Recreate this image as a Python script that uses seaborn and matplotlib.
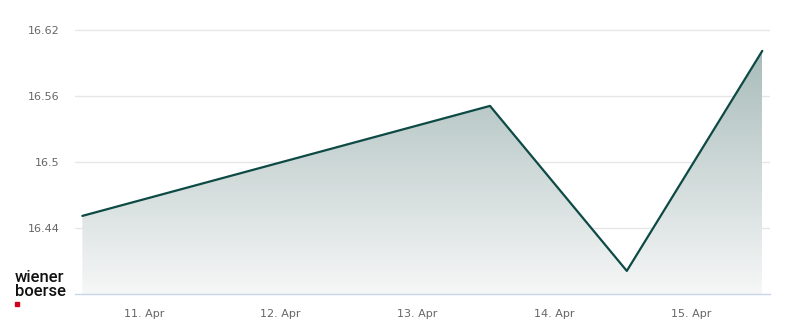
import numpy as np
import pandas as pd
import matplotlib
matplotlib.use("Agg")
import matplotlib.pyplot as plt
import matplotlib.dates as mdates
from matplotlib.patches import Polygon
import seaborn as sns

# Data
times = ["2024-04-10 13:12", "2024-04-13 12:43", "2024-04-14 12:43", "2024-04-15 12:29"]
prices = [16.451, 16.551, 16.401, 16.601]
y_ticks = [16.44, 16.5, 16.56, 16.62]
y_tick_labels = ["16.44", "16.5", "16.56", "16.62"]
x_ticks = ["2024-04-11", "2024-04-12", "2024-04-13", "2024-04-14", "2024-04-15"]
x_tick_labels = ["11. Apr", "12. Apr", "13. Apr", "14. Apr", "15. Apr"]

df = pd.DataFrame({"time": pd.to_datetime(times), "price": prices})

sns.set_style("white")
plt.rcParams["font.family"] = ["DejaVu Sans"]

fig = plt.figure(figsize=(8, 3.24), dpi=100)
ax = fig.add_axes([75 / 800, 1 - 294 / 324, (770 - 75) / 800, (294 - 22) / 324])

line_color = "#0e4a45"
sns.lineplot(data=df, x="time", y="price", ax=ax, color=line_color, linewidth=1.6, zorder=3)

ymin = 16.38
ymax = 16.62 + 8 / 1100
x0 = mdates.date2num(pd.Timestamp("2024-04-11")) - (144 - 75) / 137
x1 = mdates.date2num(pd.Timestamp("2024-04-15")) + (770 - 691) / 137
ax.set_xlim(x0, x1)
ax.set_ylim(ymin, ymax)

# gradient fill under line
xn = mdates.date2num(df["time"])
verts = [(xn[0], ymin)] + list(zip(xn, df["price"])) + [(xn[-1], ymin)]
poly = Polygon(verts, closed=True, facecolor="none", edgecolor="none")
ax.add_patch(poly)
top_c = np.array([168, 188, 186]) / 255
bot_c = np.array([246, 247, 247]) / 255
top_v = max(prices)
n = 256
t = np.linspace(0, 1, n)[:, None]
grad = (top_c[None, :] * (1 - t) + bot_c[None, :] * t)[:, None, :]
im = ax.imshow(grad, extent=[xn[0], xn[-1], ymin, top_v], origin="upper",
               aspect="auto", zorder=1, interpolation="bilinear")
im.set_clip_path(poly)

# grid
ax.set_yticks(y_ticks)
ax.set_yticklabels(y_tick_labels)
ax.grid(axis="y", color="#e6e6e6", linewidth=1, zorder=0)
ax.set_xticks([mdates.date2num(pd.Timestamp(d)) for d in x_ticks])
ax.set_xticklabels(x_tick_labels)

for s in ["top", "right", "left"]:
    ax.spines[s].set_visible(False)
ax.spines["bottom"].set_color("#c8d6ea")
ax.spines["bottom"].set_linewidth(1)
ax.tick_params(axis="x", colors="#c8d6ea", length=8, width=1, direction="out", pad=3,
               labelcolor="#666666", labelsize=8)
ax.tick_params(axis="y", length=0, pad=11, labelcolor="#666666", labelsize=8)
ax.set_xlabel("")
ax.set_ylabel("")

# logo
logo_font = ["Roboto", "DejaVu Sans"]
fig.text(15 / 800, 1 - 277 / 324, "wiener", fontsize=12, color="#111111", va="center", ha="left",
         family=logo_font, fontweight="medium")
fig.text(15 / 800, 1 - 292 / 324, "boerse", fontsize=12, color="#111111", va="center", ha="left",
         family=logo_font, fontweight="medium")
fig.patches.append(matplotlib.patches.Rectangle((15 / 800, 1 - 306 / 324), 4 / 800, 4 / 324,
                                                transform=fig.transFigure, color="#d0021b"))

fig.savefig("out.png", dpi=100, facecolor="white")
